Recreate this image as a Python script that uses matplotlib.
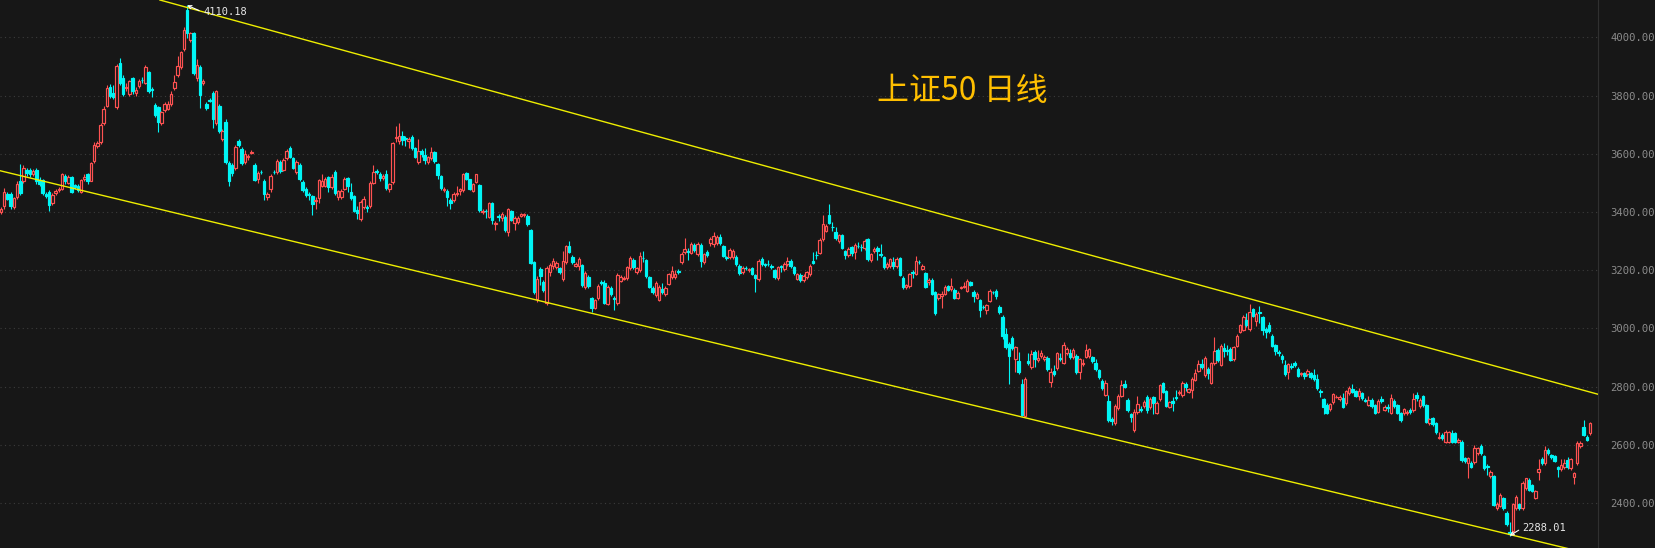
import matplotlib
matplotlib.use("Agg")
import matplotlib.pyplot as plt
from matplotlib.collections import LineCollection
import numpy as np

# ---------------- data ----------------
opens = [
    3400,3420,3463,3463,3417,3450,3507,3507,3545,3545,
    3530,3545,3510,3510,3463,3470,3430,3465,3475,3480,
    3525,3500,3520,3492,3490,3470,3512,3530,3508,3575,
    3628,3640,3705,3765,3830,3808,3761,3912,3861,3825,
    3806,3860,3810,3832,3855,3845,3880,3824,3768,3760,
    3707,3750,3755,3770,3825,3870,3898,3960,4094,3991,
    4015,3860,3898,3842,3770,3786,3808,3706,3765,3650,
    3710,3568,3562,3551,3645,3617,3573,3590,3603,3562,
    3513,3539,3506,3452,3478,3539,3538,3573,3545,3585,
    3620,3585,3538,3562,3504,3479,3462,3455,3438,3448,
    3491,3491,3521,3486,3537,3451,3451,3480,3518,3470,
    3455,3407,3376,3418,3417,3422,3499,3540,3532,3516,
    3530,3480,3502,3655,3643,3660,3653,3645,3657,3619,
    3571,3610,3596,3571,3584,3605,3566,3524,3476,3471,
    3440,3440,3463,3472,3475,3533,3512,3474,3504,3493,
    3401,3404,3384,3430,3359,3386,3381,3384,3330,3403,
    3362,3366,3388,3390,3388,3338,3227,3100,3204,3159,
    3087,3195,3216,3212,3208,3169,3227,3284,3245,3216,
    3213,3218,3144,3178,3103,3072,3104,3158,3155,3085,
    3140,3103,3087,3164,3170,3172,3207,3236,3194,3200,
    3243,3236,3177,3139,3115,3098,3135,3118,3154,3176,
    3176,3197,3228,3262,3265,3261,3287,3255,3287,3227,
    3263,3292,3289,3292,3314,3283,3245,3245,3245,3247,
    3216,3194,3209,3200,3207,3183,3169,3238,3221,3223,
    3215,3200,3173,3213,3203,3221,3233,3210,3170,3185,
    3165,3176,3187,3233,3254,3261,3307,3336,3390,3349,
    3330,3300,3321,3265,3253,3279,3262,3285,3281,3276,
    3307,3235,3266,3278,3255,3245,3211,3214,3229,3214,
    3241,3175,3141,3145,3193,3187,3229,3206,3190,3158,
    3168,3124,3106,3110,3120,3146,3135,3133,3105,3139,
    3142,3130,3158,3127,3106,3098,3075,3065,3094,3126,
    3130,3075,3038,2981,2947,2966,2894,2889,2809,2699,
    2888,2867,2918,2892,2907,2895,2900,2815,2854,2863,
    2900,2883,2917,2915,2901,2907,2852,2878,2903,2905,
    2901,2880,2857,2820,2772,2751,2688,2674,2726,2769,
    2808,2754,2706,2651,2712,2723,2735,2766,2729,2763,
    2709,2757,2812,2785,2731,2751,2766,2777,2772,2809,
    2783,2789,2823,2855,2878,2840,2861,2812,2880,2926,
    2875,2934,2926,2930,2894,2941,2989,2995,3029,2998,
    3066,3027,3055,3038,2997,3012,2974,2943,2918,2905,
    2875,2849,2872,2880,2861,2842,2846,2842,2846,2840,
    2825,2786,2758,2737,2722,2746,2764,2758,2762,2743,
    2777,2791,2785,2769,2777,2754,2737,2754,2737,2714,
    2758,2720,2731,2711,2751,2737,2708,2708,2708,2720,
    2720,2771,2734,2768,2737,2674,2691,2674,2624,2634,
    2611,2611,2640,2640,2611,2611,2554,2537,2539,2542,
    2571,2597,2562,2528,2493,2494,2384,2390,2416,2367,
    2302,2305,2382,2397,2382,2451,2479,2462,2419,2508,
    2550,2537,2583,2565,2562,2523,2516,2523,2548,2520,
    2491,2537,2596,2663,2628,2642,
]

closes = [
    3410,3469,3446,3420,3448,3496,3465,3551,3535,3530,
    3542,3505,3495,3465,3455,3425,3460,3472,3480,3530,
    3505,3520,3470,3485,3475,3510,3522,3505,3568,3632,
    3636,3700,3755,3825,3800,3795,3902,3843,3806,3830,
    3850,3815,3818,3850,3852,3898,3815,3820,3733,3710,
    3743,3770,3772,3805,3848,3903,3950,4025,4015,4014,
    3877,3905,3802,3850,3759,3783,3719,3815,3680,3680,
    3572,3507,3533,3625,3632,3568,3600,3594,3607,3510,
    3535,3537,3463,3463,3525,3537,3577,3541,3580,3610,
    3590,3553,3573,3512,3476,3458,3459,3428,3442,3510,
    3507,3514,3487,3521,3466,3471,3471,3514,3491,3449,
    3405,3398,3434,3444,3415,3499,3537,3537,3516,3524,
    3482,3496,3636,3659,3660,3649,3651,3652,3619,3590,
    3610,3599,3580,3588,3605,3577,3526,3482,3480,3452,
    3430,3463,3467,3480,3529,3515,3480,3496,3529,3407,
    3405,3402,3430,3373,3363,3383,3392,3338,3410,3374,
    3380,3380,3392,3394,3358,3226,3126,3169,3180,3132,
    3207,3218,3233,3225,3195,3232,3284,3263,3228,3220,
    3238,3150,3190,3145,3071,3097,3146,3156,3089,3143,
    3117,3100,3183,3177,3174,3211,3243,3211,3207,3248,
    3241,3181,3143,3127,3157,3143,3124,3140,3187,3197,
    3187,3195,3256,3272,3263,3290,3270,3291,3232,3255,
    3252,3308,3317,3314,3292,3250,3243,3271,3266,3220,
    3189,3209,3207,3203,3188,3175,3233,3220,3219,3221,
    3210,3176,3211,3211,3220,3233,3215,3190,3187,3168,
    3181,3193,3216,3226,3252,3304,3359,3352,3364,3347,
    3311,3321,3278,3253,3274,3259,3287,3283,3279,3300,
    3238,3256,3274,3265,3253,3211,3223,3237,3214,3237,
    3185,3142,3148,3187,3191,3233,3227,3215,3144,3168,
    3120,3052,3117,3120,3143,3133,3146,3106,3123,3142,
    3145,3164,3151,3110,3120,3064,3073,3080,3130,3124,
    3110,3057,2974,2935,2905,2932,2935,2852,2703,2826,
    2880,2911,2894,2900,2915,2902,2860,2852,2843,2915,
    2896,2943,2928,2903,2926,2849,2894,2882,2926,2928,
    2889,2861,2834,2797,2812,2686,2683,2735,2769,2806,
    2800,2720,2695,2714,2741,2720,2749,2720,2758,2745,
    2745,2806,2783,2735,2746,2745,2762,2783,2812,2798,
    2791,2826,2848,2878,2867,2900,2846,2880,2923,2892,
    2940,2923,2923,2892,2935,2975,3012,3040,3012,3055,
    3044,3049,3052,2995,2989,2992,2941,2924,2915,2895,
    2842,2877,2866,2875,2838,2846,2837,2854,2832,2826,
    2794,2783,2731,2709,2741,2774,2766,2766,2731,2785,
    2797,2783,2768,2785,2760,2752,2754,2734,2709,2751,
    2752,2731,2728,2760,2734,2711,2686,2722,2714,2712,
    2758,2760,2754,2737,2680,2688,2672,2645,2628,2623,
    2645,2643,2611,2611,2617,2548,2545,2554,2525,2588,
    2588,2571,2520,2525,2508,2394,2396,2428,2382,2328,
    2294,2396,2420,2382,2470,2485,2445,2443,2442,2516,
    2537,2583,2571,2557,2546,2516,2531,2537,2523,2550,
    2502,2608,2608,2634,2617,2674,
]

highs = [
    3418,3483,3470,3468,3452,3505,3565,3560,3552,3550,
    3548,3552,3520,3515,3470,3475,3465,3480,3486,3535,
    3530,3528,3525,3498,3495,3515,3530,3535,3572,3640,
    3645,3705,3765,3835,3840,3835,3910,3930,3870,3845,
    3855,3865,3830,3858,3865,3905,3885,3830,3775,3765,
    3748,3778,3780,3815,3872,3935,3955,4035,4110.18,4020,
    4020,3925,3905,3858,3778,3792,3815,3820,3772,3686,
    3720,3575,3570,3630,3652,3622,3612,3600,3612,3570,
    3542,3545,3512,3470,3530,3545,3582,3578,3585,3615,
    3628,3590,3580,3568,3510,3485,3470,3460,3450,3515,
    3530,3520,3525,3530,3545,3475,3478,3520,3522,3500,
    3460,3420,3440,3456,3425,3505,3560,3548,3536,3530,
    3545,3500,3640,3695,3705,3680,3660,3658,3663,3625,
    3650,3615,3620,3592,3625,3610,3570,3528,3485,3478,
    3448,3470,3490,3484,3535,3538,3515,3500,3532,3498,
    3412,3410,3436,3435,3370,3392,3400,3390,3415,3408,
    3385,3386,3398,3398,3392,3342,3232,3180,3210,3165,
    3215,3225,3242,3232,3212,3266,3288,3300,3252,3230,
    3245,3222,3196,3182,3108,3102,3152,3165,3165,3148,
    3145,3112,3190,3182,3180,3216,3250,3242,3212,3262,
    3265,3240,3180,3145,3162,3148,3155,3145,3192,3215,
    3202,3203,3262,3310,3275,3298,3295,3296,3292,3260,
    3268,3315,3333,3320,3325,3288,3250,3276,3272,3252,
    3222,3215,3215,3208,3212,3188,3238,3245,3226,3236,
    3220,3206,3216,3218,3228,3245,3238,3215,3192,3190,
    3186,3198,3222,3262,3265,3310,3390,3358,3428,3365,
    3350,3326,3326,3270,3280,3285,3292,3298,3290,3306,
    3310,3260,3280,3282,3290,3250,3230,3242,3245,3244,
    3246,3180,3152,3192,3200,3248,3235,3220,3195,3172,
    3172,3128,3122,3128,3148,3150,3172,3138,3128,3146,
    3160,3170,3163,3132,3125,3102,3080,3085,3135,3130,
    3135,3080,3045,3000,2952,2974,2940,2919,2825,2832,
    2917,2925,2925,2925,2925,2910,2905,2865,2873,2920,
    2917,2955,2935,2930,2932,2912,2900,2895,2945,2932,
    2906,2895,2862,2825,2822,2771,2696,2740,2775,2822,
    2822,2762,2710,2725,2768,2735,2755,2772,2763,2768,
    2750,2810,2817,2790,2750,2765,2790,2790,2818,2815,
    2797,2832,2862,2892,2894,2905,2866,2886,2970,2934,
    2945,2950,2942,2935,2940,2981,3017,3048,3052,3084,
    3072,3055,3077,3043,3005,3022,2980,2948,2925,2912,
    2890,2882,2880,2888,2866,2852,2852,2862,2852,2860,
    2845,2792,2762,2745,2745,2778,2772,2772,2780,2790,
    2802,2808,2790,2795,2782,2760,2768,2760,2742,2756,
    2768,2736,2740,2776,2756,2742,2712,2728,2720,2726,
    2777,2783,2760,2772,2742,2692,2696,2678,2645,2640,
    2650,2648,2650,2645,2622,2616,2560,2560,2544,2600,
    2593,2604,2566,2535,2513,2498,2405,2436,2422,2372,
    2336,2400,2428,2402,2476,2488,2485,2466,2446,2550,
    2560,2595,2590,2570,2566,2528,2550,2550,2560,2556,
    2506,2612,2614,2686,2634,2678,
]

lows = [
    3392,3412,3440,3412,3410,3445,3458,3500,3525,3522,
    3525,3498,3488,3458,3448,3405,3425,3460,3470,3476,
    3498,3495,3465,3478,3468,3465,3505,3498,3505,3570,
    3620,3635,3700,3760,3792,3790,3755,3835,3800,3815,
    3800,3805,3800,3825,3845,3840,3810,3795,3725,3676,
    3700,3745,3750,3765,3818,3865,3890,3955,3997,3985,
    3870,3850,3756,3835,3752,3778,3690,3700,3672,3645,
    3565,3490,3525,3545,3625,3560,3565,3580,3598,3505,
    3500,3530,3440,3440,3470,3530,3532,3535,3540,3580,
    3585,3548,3532,3505,3470,3450,3440,3390,3410,3430,
    3485,3485,3470,3480,3460,3440,3445,3475,3470,3440,
    3400,3377,3370,3410,3400,3415,3495,3530,3505,3510,
    3475,3470,3498,3640,3635,3632,3628,3620,3612,3585,
    3565,3590,3565,3565,3578,3570,3515,3476,3470,3420,
    3410,3435,3455,3460,3470,3510,3476,3470,3500,3400,
    3395,3380,3378,3360,3340,3370,3370,3330,3318,3368,
    3340,3360,3382,3384,3352,3220,3120,3090,3150,3125,
    3080,3180,3205,3205,3188,3162,3220,3258,3222,3210,
    3200,3144,3135,3138,3055,3068,3098,3150,3084,3080,
    3110,3065,3080,3158,3165,3168,3200,3205,3188,3195,
    3230,3175,3138,3120,3108,3094,3118,3112,3148,3170,
    3170,3188,3220,3256,3235,3255,3262,3248,3212,3220,
    3245,3285,3280,3286,3286,3244,3236,3238,3240,3213,
    3182,3186,3200,3194,3182,3126,3164,3214,3212,3214,
    3204,3170,3168,3195,3198,3215,3208,3184,3165,3160,
    3158,3170,3180,3220,3240,3255,3300,3330,3360,3335,
    3305,3295,3272,3240,3245,3250,3240,3275,3265,3270,
    3232,3230,3260,3235,3245,3205,3205,3208,3205,3208,
    3180,3137,3136,3140,3172,3182,3220,3200,3138,3150,
    3115,3045,3098,3070,3115,3128,3130,3100,3100,3134,
    3138,3126,3145,3090,3100,3040,3068,3050,3090,3118,
    3100,3050,2964,2928,2809,2925,2852,2845,2698,2695,
    2874,2860,2868,2885,2900,2888,2855,2800,2836,2858,
    2888,2878,2910,2896,2895,2842,2826,2870,2898,2900,
    2882,2855,2825,2790,2768,2680,2668,2670,2720,2764,
    2795,2712,2678,2645,2706,2712,2728,2710,2723,2707,
    2705,2752,2778,2730,2726,2718,2755,2770,2766,2785,
    2777,2762,2818,2850,2860,2835,2827,2808,2875,2886,
    2870,2903,2910,2888,2889,2936,2984,2990,3005,2993,
    3038,3008,3018,2978,2968,2986,2936,2910,2905,2880,
    2838,2828,2860,2866,2832,2836,2828,2836,2825,2820,
    2788,2766,2706,2706,2716,2740,2760,2752,2726,2738,
    2772,2778,2763,2755,2755,2748,2732,2728,2705,2708,
    2745,2715,2712,2706,2728,2705,2680,2702,2702,2706,
    2714,2752,2728,2730,2674,2668,2666,2638,2620,2618,
    2605,2605,2606,2606,2606,2542,2538,2485,2520,2536,
    2566,2566,2514,2495,2488,2390,2378,2385,2376,2322,
    2288.01,2290,2376,2376,2376,2446,2440,2438,2414,2480,
    2530,2532,2566,2550,2540,2490,2512,2518,2518,2515,
    2466,2532,2590,2630,2612,2634,
]

y_ticks = [2400, 2600, 2800, 3000, 3200, 3400, 3600, 3800, 4000]
title_text = "上证50 日线"

# channel lines (candle index, price)
upper_line_x = [49.5, 497.5]
upper_line_y = [4128.5, 2774.0]
lower_line_x = [-0.31, 497.5]
lower_line_y = [3542.0, 2219.0]

# ---------------- styling ----------------
BG = "#171717"
UP = "#ff5252"
DOWN = "#00f5f5"
W, H = 1656, 548

fig = plt.figure(figsize=(W / 100, H / 100), dpi=100, facecolor=BG)
ax = fig.add_axes([0, 0, 1598 / W, 1])
ax.set_facecolor(BG)

n = min(len(opens), len(closes), len(highs), len(lows))
o = np.asarray(opens[:n], float)
c = np.asarray(closes[:n], float)
h = np.asarray(highs[:n], float)
l = np.asarray(lows[:n], float)
x = np.arange(n)
up = c >= o
top = np.maximum(o, c)
bot = np.minimum(o, c)
cols = [UP if u else DOWN for u in up]

# grid
for yv in y_ticks:
    ax.axhline(yv, color="#3c3c3c", lw=0.8, linestyle=(0, (1, 3)), zorder=1)

# wicks
segs, wcols = [], []
for i in range(n):
    if h[i] > top[i]:
        segs.append([(x[i], top[i]), (x[i], h[i])]); wcols.append(cols[i])
    if l[i] < bot[i]:
        segs.append([(x[i], l[i]), (x[i], bot[i])]); wcols.append(cols[i])
ax.add_collection(LineCollection(segs, colors=wcols, linewidths=0.8, zorder=2))

# bodies
heights = np.maximum(top - bot, 0.8)
faces = [BG if u else DOWN for u in up]
ax.bar(x, heights, bottom=bot, width=0.78, color=faces, edgecolor=cols,
       linewidth=0.85, zorder=3)

# channel lines
ax.plot(upper_line_x, upper_line_y, color="#eeee00", lw=1.0, zorder=4)
ax.plot(lower_line_x, lower_line_y, color="#eeee00", lw=1.0, zorder=4)

# max / min annotations
imax = int(np.argmax(h))
imin = int(np.argmin(l))
ann_kw = dict(textcoords="offset pixels", ha="left", va="center",
              color="#e8e8e8", fontfamily="DejaVu Sans Mono", fontsize=7.5, zorder=6)
ax.annotate(f"{h[imax]:.2f}", xy=(imax, h[imax]), xytext=(16, -7),
            arrowprops=dict(arrowstyle="->", color="white", lw=0.8,
                            shrinkA=1, shrinkB=0, mutation_scale=6, relpos=(0, 0.5)),
            **ann_kw)
ax.annotate(f"{l[imin]:.2f}", xy=(imin, l[imin]), xytext=(13, 8),
            arrowprops=dict(arrowstyle="->", color="white", lw=0.8,
                            shrinkA=1, shrinkB=0, mutation_scale=6, relpos=(0, 0.5)),
            **ann_kw)

# axes
ax.set_xlim(-0.31, n + 1.5)
ax.set_ylim(2245.8, 4128.5)
ax.set_xticks([])
ax.yaxis.tick_right()
ax.set_yticks(y_ticks)
ax.set_yticklabels([f"{v:.2f}" for v in y_ticks], fontfamily="DejaVu Sans Mono",
                   fontsize=7.6, color="#8c8c8c")
ax.tick_params(axis="y", length=0, pad=9.0)
for side in ("top", "bottom", "left"):
    ax.spines[side].set_visible(False)
ax.spines["right"].set_color("#303030")
ax.spines["right"].set_linewidth(0.8)

# title
fig.text(962 / W, 1 - 91 / H, title_text, fontfamily=["Noto Sans CJK SC", "DejaVu Sans"],
         fontsize=23, color="#ffbf00", ha="center", va="center")

fig.savefig("out.png", dpi=100, facecolor=BG)
